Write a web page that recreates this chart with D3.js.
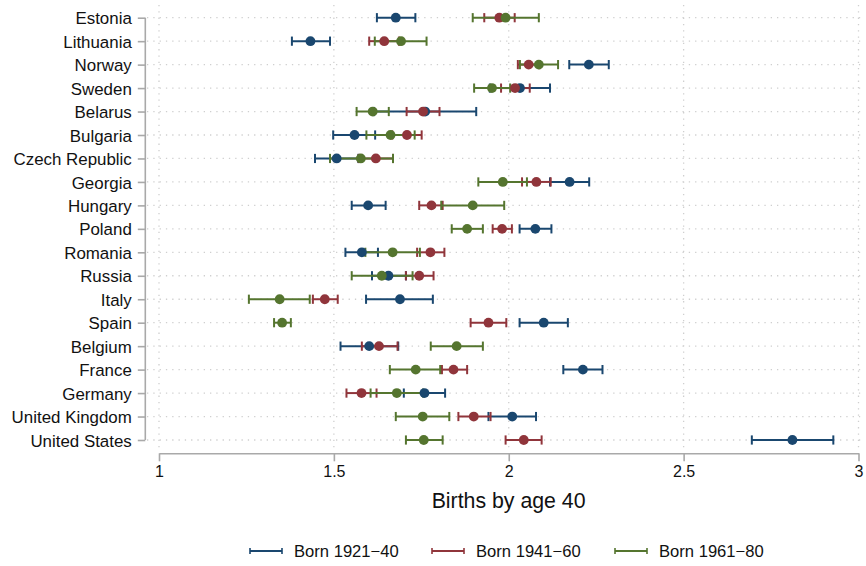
<!DOCTYPE html>
<html>
<head>
<meta charset="utf-8">
<script src="https://cdn.jsdelivr.net/npm/d3@7"></script>
<style>
  html, body { margin: 0; padding: 0; background: #fff; }
  svg { display: block; font-family: "Liberation Sans", Arial, Helvetica, sans-serif; }
</style>
</head>
<body>
<svg id="chart" width="866" height="566"></svg>
<script>
// Countries, top to bottom
const countries = ["Estonia", "Lithuania", "Norway", "Sweden", "Belarus", "Bulgaria",
  "Czech Republic", "Georgia", "Hungary", "Poland", "Romania", "Russia", "Italy",
  "Spain", "Belgium", "France", "Germany", "United Kingdom", "United States"];

// Mean births by age 40, with confidence bounds, per birth cohort
const born1921Mean = [1.677, 1.433, 2.229, 2.032, 1.761, 1.559, 1.508, 2.174, 1.598, 2.076, 1.580, 1.656, 1.689, 2.100, 1.601, 2.212, 1.759, 2.010, 2.811];
const born1921Low  = [1.623, 1.380, 2.173, 1.946, 1.615, 1.498, 1.446, 2.118, 1.551, 2.031, 1.533, 1.609, 1.592, 2.031, 1.519, 2.156, 1.700, 1.942, 2.695];
const born1921High = [1.733, 1.489, 2.286, 2.118, 1.907, 1.618, 1.570, 2.230, 1.648, 2.122, 1.626, 1.706, 1.783, 2.169, 1.684, 2.268, 1.818, 2.078, 2.928];

const born1941Mean = [1.973, 1.644, 2.057, 2.018, 1.755, 1.709, 1.620, 2.079, 1.779, 1.981, 1.776, 1.744, 1.474, 1.942, 1.629, 1.842, 1.579, 1.900, 2.043];
const born1941Low  = [1.930, 1.601, 2.026, 1.978, 1.708, 1.667, 1.571, 2.038, 1.744, 1.954, 1.738, 1.706, 1.440, 1.891, 1.580, 1.809, 1.536, 1.856, 1.991];
const born1941High = [2.017, 1.686, 2.088, 2.060, 1.802, 1.751, 1.669, 2.120, 1.811, 2.009, 1.816, 1.785, 1.511, 1.993, 1.682, 1.881, 1.622, 1.948, 2.094];

const born1961Mean = [1.991, 1.692, 2.086, 1.952, 1.611, 1.662, 1.577, 1.983, 1.897, 1.881, 1.668, 1.637, 1.345, 1.352, 1.851, 1.734, 1.680, 1.754, 1.757];
const born1961Low  = [1.897, 1.617, 2.032, 1.901, 1.565, 1.593, 1.489, 1.913, 1.807, 1.837, 1.590, 1.551, 1.257, 1.329, 1.777, 1.660, 1.605, 1.677, 1.706];
const born1961High = [2.086, 1.765, 2.141, 2.004, 1.657, 1.731, 1.669, 2.052, 1.987, 1.926, 1.746, 1.725, 1.431, 1.377, 1.926, 1.804, 1.755, 1.830, 1.811];

const seriesNames = ["Born 1921\u221240", "Born 1941\u221260", "Born 1961\u221280"];
const seriesColors = ["#1a476f", "#90353b", "#55752f"];
const xTicks = [1, 1.5, 2, 2.5, 3];
const xTickLabels = ["1", "1.5", "2", "2.5", "3"];
const xTitle = "Births by age 40";

const series = [
  { mean: born1921Mean, low: born1921Low, high: born1921High },
  { mean: born1941Mean, low: born1941Low, high: born1941High },
  { mean: born1961Mean, low: born1961Low, high: born1961High }
].map((s, k) => ({
  name: seriesNames[k],
  color: seriesColors[k],
  rows: countries.map((c, i) => ({ country: c, mean: s.mean[i], low: s.low[i], high: s.high[i] }))
}));

const svg = d3.select("#chart");

const x = d3.scaleLinear().domain([1, 3]).range([159, 858.5]);
const y = d3.scalePoint().domain(countries).range([17.7, 440]);

const axisGrey = "#a9a9a9";
const gridGrey = "#cfcfcf";

// Grid lines (dotted)
const grid = svg.append("g");
grid.selectAll("line.hgrid").data(countries).join("line")
  .attr("x1", 147).attr("x2", 864)
  .attr("y1", d => y(d)).attr("y2", d => y(d))
  .attr("stroke", gridGrey).attr("stroke-width", 1.3)
  .attr("stroke-dasharray", "1.3,5");
grid.selectAll("line.vgrid").data(xTicks).join("line")
  .attr("x1", d => x(d)).attr("x2", d => x(d))
  .attr("y1", 5).attr("y2", 452)
  .attr("stroke", gridGrey).attr("stroke-width", 1.3)
  .attr("stroke-dasharray", "1.3,5");

// Y axis
const yAxis = svg.append("g").attr("transform", "translate(145.3,0)")
  .call(d3.axisLeft(y).tickSize(7.5).tickPadding(6));
yAxis.select(".domain").attr("d", `M0,${y(countries[0])}V${y(countries[countries.length - 1])}`)
  .attr("stroke", axisGrey).attr("stroke-width", 1.6);
yAxis.selectAll(".tick line").attr("stroke", axisGrey).attr("stroke-width", 1.6);
yAxis.selectAll(".tick text").attr("font-size", "16.9px").attr("fill", "#111")
  .attr("x", -13.5).attr("dy", "0.36em")
  .style("font-family", "'Liberation Sans', Arial, sans-serif");

// X axis
const xAxis = svg.append("g").attr("transform", "translate(0,453.3)")
  .call(d3.axisBottom(x).tickValues(xTicks).tickFormat((d, i) => xTickLabels[i]).tickSize(8).tickPadding(4).tickSizeOuter(0));
xAxis.select(".domain").attr("stroke", axisGrey).attr("stroke-width", 1.6);
xAxis.selectAll(".tick line").attr("stroke", axisGrey).attr("stroke-width", 1.6);
xAxis.selectAll(".tick text").attr("font-size", "16px").attr("fill", "#111")
  .style("font-family", "'Liberation Sans', Arial, sans-serif");

svg.append("text")
  .attr("x", 508.6).attr("y", 507.5)
  .attr("text-anchor", "middle")
  .attr("font-size", "21.3px").attr("fill", "#111")
  .text(xTitle);

// Confidence intervals (range caps) for every cohort, then the markers on top
const capHalf = 4.6;
const ciLayer = svg.append("g");
series.forEach(s => {
  const g = ciLayer.append("g").attr("stroke", s.color).attr("stroke-width", 2).attr("fill", "none");
  g.selectAll("line.bar").data(s.rows).join("line")
    .attr("x1", d => x(d.low)).attr("x2", d => x(d.high))
    .attr("y1", d => y(d.country)).attr("y2", d => y(d.country));
  g.selectAll("line.capl").data(s.rows).join("line")
    .attr("x1", d => x(d.low)).attr("x2", d => x(d.low))
    .attr("y1", d => y(d.country) - capHalf).attr("y2", d => y(d.country) + capHalf);
  g.selectAll("line.caph").data(s.rows).join("line")
    .attr("x1", d => x(d.high)).attr("x2", d => x(d.high))
    .attr("y1", d => y(d.country) - capHalf).attr("y2", d => y(d.country) + capHalf);
});
const dotLayer = svg.append("g");
series.forEach(s => {
  dotLayer.append("g").selectAll("circle").data(s.rows).join("circle")
    .attr("cx", d => x(d.mean)).attr("cy", d => y(d.country))
    .attr("r", 4.9).attr("fill", s.color);
});

// Legend
const legendLineX = [250, 432, 615];
const legend = svg.append("g");
series.forEach((s, k) => {
  const lg = legend.append("g").attr("transform", `translate(${legendLineX[k]},551)`);
  lg.append("line").attr("x1", 0).attr("x2", 32).attr("y1", 0).attr("y2", 0)
    .attr("stroke", s.color).attr("stroke-width", 2);
  lg.append("line").attr("x1", 0).attr("x2", 0).attr("y1", -3).attr("y2", 3)
    .attr("stroke", s.color).attr("stroke-width", 1.6);
  lg.append("line").attr("x1", 32).attr("x2", 32).attr("y1", -3).attr("y2", 3)
    .attr("stroke", s.color).attr("stroke-width", 1.6);
  lg.append("text").attr("x", 44).attr("y", 6)
    .attr("font-size", "16.6px").attr("fill", "#111")
    .text(s.name);
});
</script>
</body>
</html>
